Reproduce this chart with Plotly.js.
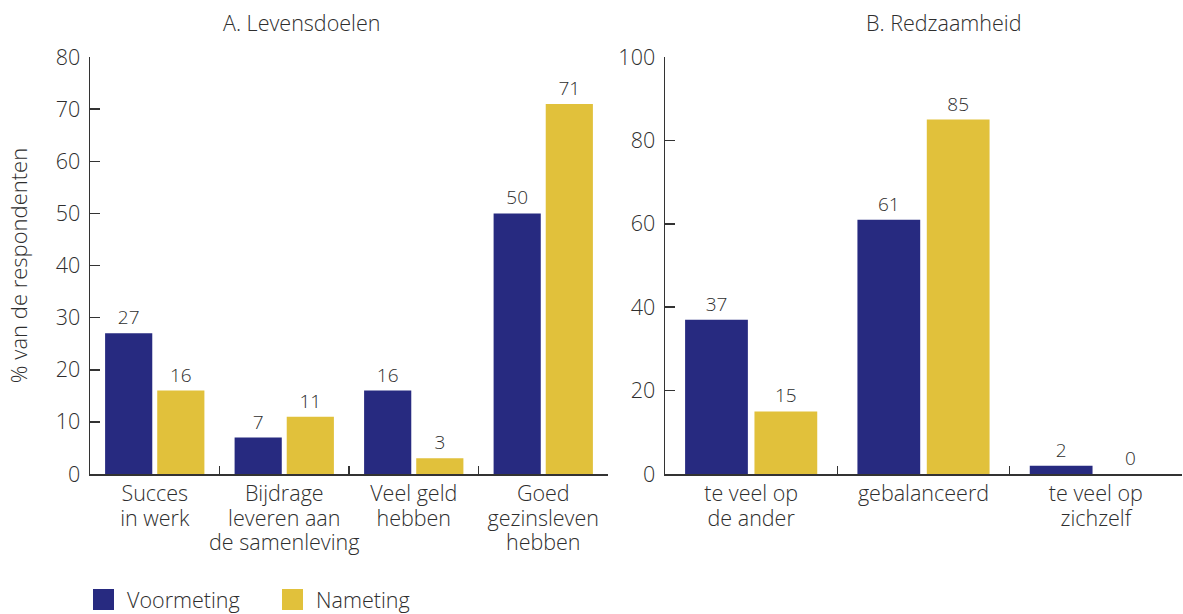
<!DOCTYPE html>
<html>
<head>
<meta charset="utf-8">
<script src="https://cdn.plot.ly/plotly-3.0.1.min.js"></script>
<style>html,body{margin:0;padding:0;background:#fff;}#chart{width:1183px;height:614px;}</style>
</head>
<body>
<div id="chart"></div>
<script>
const catsA = ["Succes<br>in werk", "Bijdrage<br>leveren aan<br>de samenleving", "Veel geld<br>hebben", "Goed<br>gezinsleven<br>hebben"];
const voorA = [27, 7, 16, 50];
const naA = [16, 11, 3, 71];
const catsB = ["te veel op<br>de ander", "gebalanceerd", "te veel op<br>zichzelf"];
const voorB = [37, 61, 2];
const naB = [15, 85, 0];
const seriesNames = ["Voormeting", "Nameting"];
const colors = ["#272a80", "#e1c13b"];
const titles = ["A. Levensdoelen", "B. Redzaamheid"];
const yTitle = "% van de respondenten";

const W = 1183, H = 614;
const px = v => v / W, py = v => (H - v) / H;
const txt = "#2e2e2e";
const F = (size) => ({family: "Open Sans, sans-serif", size: size, color: txt, weight: 300});

function barTrace(x, y, i, xa, ya) {
  return {type: "bar", x: x, y: y, name: seriesNames[i], xaxis: xa, yaxis: ya,
    marker: {color: colors[i]}, text: y.map(String), textposition: "outside",
    textfont: F(19), cliponaxis: false, showlegend: false, hoverinfo: "x+y"};
}

const data = [
  barTrace(catsA, voorA, 0, "x", "y"),
  barTrace(catsA, naA, 1, "x", "y"),
  barTrace(catsB, voorB, 0, "x2", "y2"),
  barTrace(catsB, naB, 1, "x2", "y2")
];

const axisCommon = {showline: true, linecolor: "#333", linewidth: 1.5, ticks: "inside",
  tickcolor: "#333", tickwidth: 1.5, showgrid: false, zeroline: false, automargin: false,
  tickfont: F(21.5), fixedrange: true};

const yDom = [py(474), py(57)];

const layout = {
  width: W, height: H, margin: {l: 0, r: 0, t: 0, b: 0},
  paper_bgcolor: "#fff", plot_bgcolor: "#fff",
  font: F(21), barmode: "group", bargap: 0.195, bargroupgap: 0.095,
  showlegend: false,
  xaxis: Object.assign({}, axisCommon, {domain: [px(90), px(608)], anchor: "y", tickson: "boundaries", ticklen: 8, type: "category", tickangle: 0}),
  yaxis: Object.assign({}, axisCommon, {domain: yDom, anchor: "x", range: [0, 80], dtick: 10, ticklen: 10, ticklabelstandoff: 4,
    title: {text: yTitle, font: F(22), standoff: 22}}),
  xaxis2: Object.assign({}, axisCommon, {domain: [px(665), px(1182)], anchor: "y2", tickson: "boundaries", ticklen: 8, type: "category", tickangle: 0}),
  yaxis2: Object.assign({}, axisCommon, {domain: yDom, anchor: "x2", range: [0, 100], dtick: 20, ticklen: 10, ticklabelstandoff: 4}),
  annotations: [
    {text: titles[0], xref: "paper", yref: "paper", x: px(301), y: py(22), showarrow: false, xanchor: "center", yanchor: "middle", font: F(21.5)},
    {text: titles[1], xref: "paper", yref: "paper", x: px(943), y: py(22), showarrow: false, xanchor: "center", yanchor: "middle", font: F(21.5)},
    {text: seriesNames[0], xref: "paper", yref: "paper", x: px(125), y: py(599), showarrow: false, xanchor: "left", yanchor: "middle", font: F(21.5)},
    {text: seriesNames[1], xref: "paper", yref: "paper", x: px(314), y: py(599), showarrow: false, xanchor: "left", yanchor: "middle", font: F(21.5)}
  ],
  shapes: [
    {type: "rect", xref: "paper", yref: "paper", x0: px(93), x1: px(114), y0: py(610), y1: py(589), fillcolor: colors[0], line: {width: 0}},
    {type: "rect", xref: "paper", yref: "paper", x0: px(282), x1: px(303), y0: py(610), y1: py(589), fillcolor: colors[1], line: {width: 0}}
  ]
};

Plotly.newPlot("chart", data, layout, {displayModeBar: false, staticPlot: true}).then(function (gd) {
  // tighten line spacing of the multi-line category labels
  gd.querySelectorAll(".xtick text tspan.line, .x2tick text tspan.line").forEach(function (t) {
    const dy = parseFloat(t.getAttribute("dy")) || 0;
    t.setAttribute("dy", (dy * 1.13 / 1.3) + "em");
  });
});
</script>
</body>
</html>
